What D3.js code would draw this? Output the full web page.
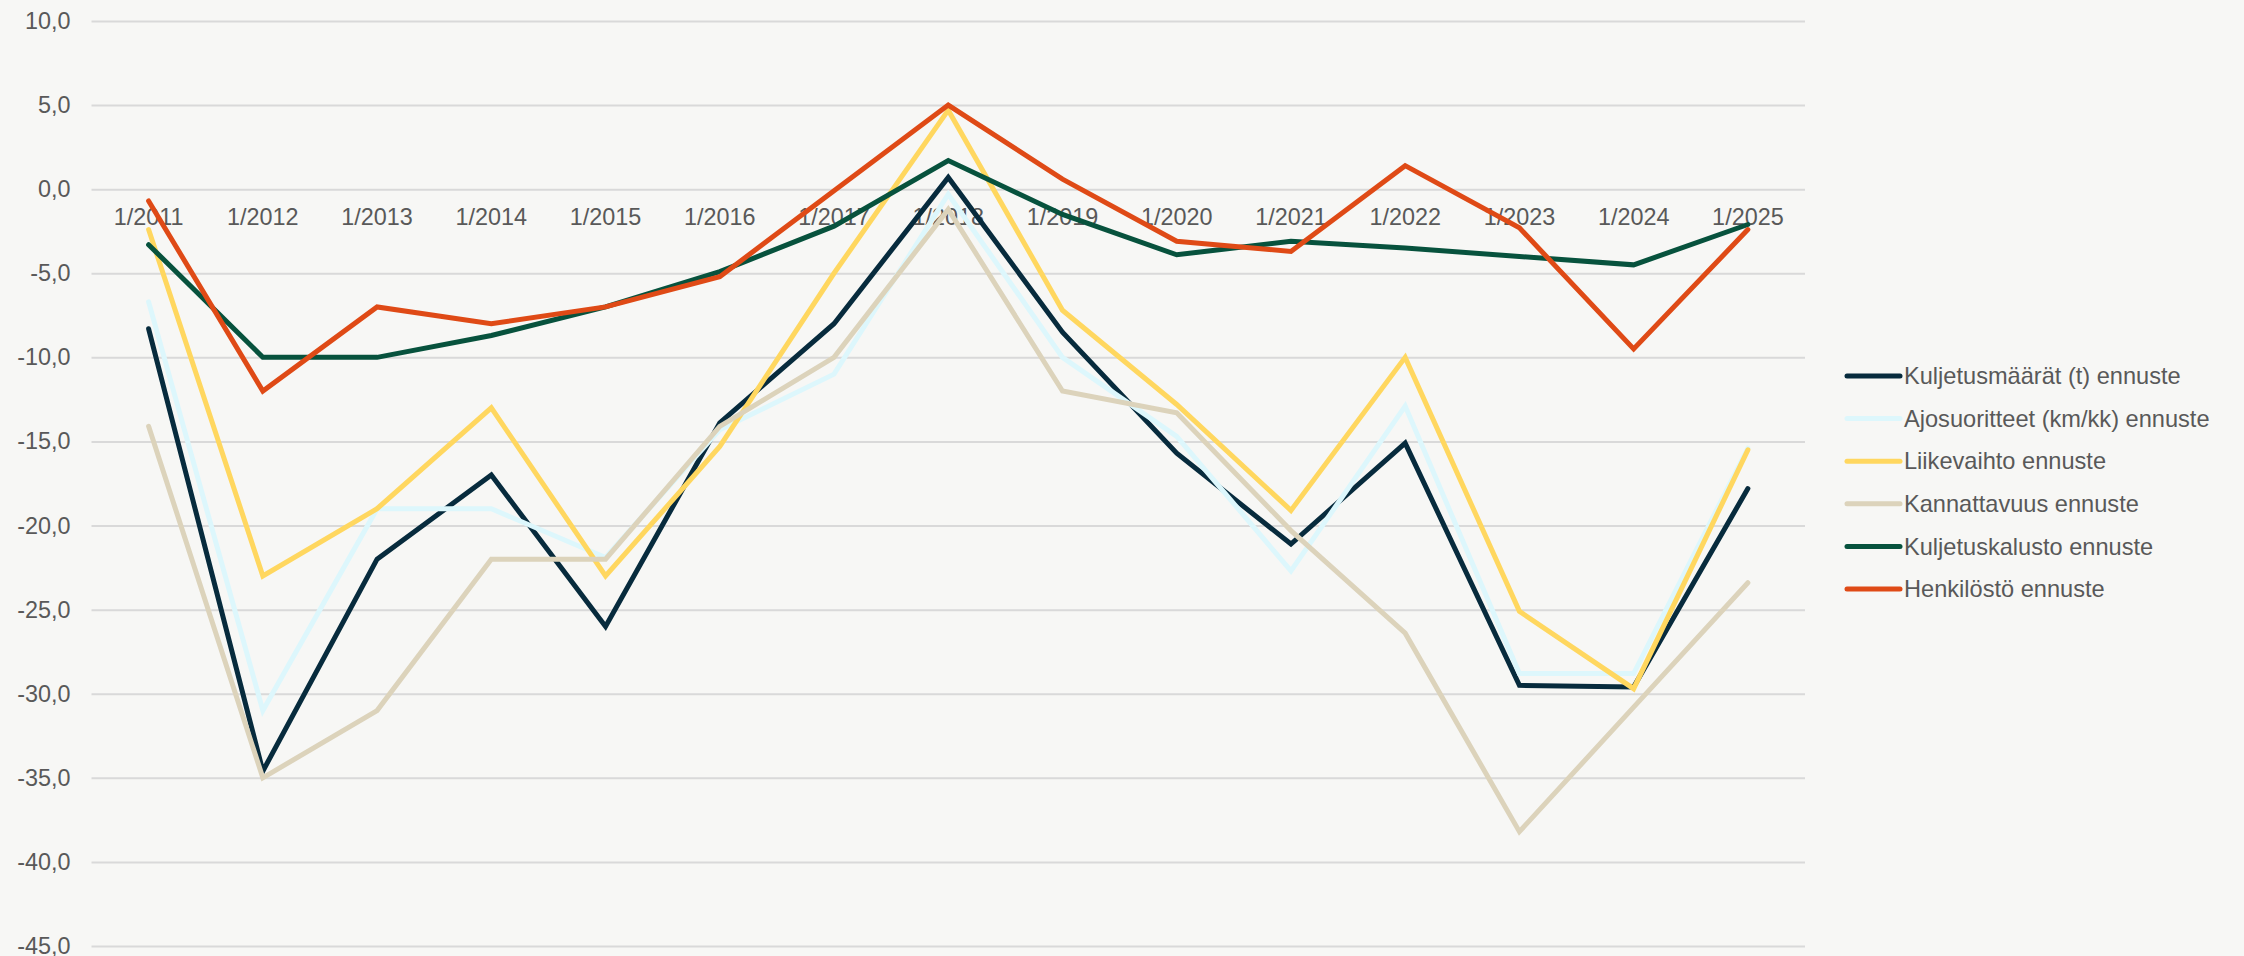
<!DOCTYPE html>
<html>
<head>
<meta charset="utf-8">
<script src="https://cdn.jsdelivr.net/npm/d3@7"></script>
<style>
  html, body { margin: 0; padding: 0; background: #f7f7f5; }
  svg { display: block; }
  text { font-family: "Liberation Sans", Arial, sans-serif; fill: #595959; }
</style>
</head>
<body>
<div id="chart"></div>
<script>
// categories and series
var categories = ["1/2011", "1/2012", "1/2013", "1/2014", "1/2015", "1/2016", "1/2017", "1/2018",
                  "1/2019", "1/2020", "1/2021", "1/2022", "1/2023", "1/2024", "1/2025"];
var kuljetusmaarat  = [-8.3, -34.6, -22.0, -17.0, -26.0, -13.9, -8.0, 0.7, -8.5, -15.7, -21.1, -15.1, -29.5, -29.6, -17.8];
var ajosuoritteet   = [-6.7, -31.0, -19.0, -19.0, -21.9, -14.3, -11.0, -0.3, -10.0, -14.7, -22.7, -12.9, -28.8, -28.8, -15.4];
var liikevaihto     = [-2.4, -23.0, -19.0, -13.0, -23.0, -15.3, -5.0, 4.7, -7.2, -12.8, -19.1, -10.0, -25.1, -29.7, -15.5];
var kannattavuus    = [-14.1, -35.0, -31.0, -22.0, -22.0, -14.1, -10.0, -1.2, -12.0, -13.3, -20.3, -26.4, -38.2, -30.8, -23.4];
var kuljetuskalusto = [-3.3, -10.0, -10.0, -8.7, -7.0, -4.9, -2.2, 1.7, -1.5, -3.9, -3.1, -3.5, -4.0, -4.5, -2.1];
var henkilosto      = [-0.7, -12.0, -7.0, -8.0, -7.0, -5.2, -0.1, 5.0, 0.6, -3.1, -3.7, 1.4, -2.3, -9.5, -2.4];
var seriesNames = ["Kuljetusmäärät (t) ennuste", "Ajosuoritteet (km/kk) ennuste", "Liikevaihto ennuste",
                   "Kannattavuus ennuste", "Kuljetuskalusto ennuste", "Henkilöstö ennuste"];
var yTicks = [10, 5, 0, -5, -10, -15, -20, -25, -30, -35, -40, -45];

var colors = ["#072b3d", "#ddf7fc", "#ffd75f", "#dcd3bb", "#07523d", "#df4a16"];
var series = [kuljetusmaarat, ajosuoritteet, liikevaihto, kannattavuus, kuljetuskalusto, henkilosto];

var width = 2244, height = 956;

var svg = d3.select("#chart").append("svg")
    .attr("width", width)
    .attr("height", height);

svg.append("rect").attr("width", width).attr("height", height).attr("fill", "#f7f7f5");

var x = d3.scaleBand()
    .domain(categories)
    .range([91.5, 1805]);
var y = d3.scaleLinear()
    .domain([-45, 10])
    .range([946, 21]);

var fmt = function(d) { return d3.format(".1f")(d).replace(".", ",").replace("−", "-"); };

// gridlines + y labels
var yAxis = svg.append("g")
    .attr("transform", "translate(" + x.range()[0] + ",0)")
    .call(d3.axisLeft(y).tickValues(yTicks).tickSize(-(x.range()[1] - x.range()[0])).tickPadding(21).tickFormat(fmt));
yAxis.select(".domain").remove();
yAxis.selectAll(".tick line").attr("stroke", "#d9d9d9").attr("stroke-width", 2);
yAxis.selectAll(".tick text")
    .style("font-size", "23.4px")
    .attr("fill", "#595959");

// category labels sit just under the zero line
var xAxis = svg.append("g")
    .attr("transform", "translate(0," + y(0) + ")")
    .call(d3.axisBottom(x).tickSize(0).tickPadding(19));
xAxis.select(".domain").remove();
xAxis.selectAll(".tick text")
    .style("font-size", "23.4px")
    .attr("fill", "#595959");

var line = d3.line()
    .x(function(d, i) { return x(categories[i]) + x.bandwidth() / 2; })
    .y(function(d) { return y(d); });

svg.append("g").selectAll("path")
    .data(series)
  .enter().append("path")
    .attr("d", line)
    .attr("fill", "none")
    .attr("stroke", function(d, i) { return colors[i]; })
    .attr("stroke-width", 5)
    .attr("stroke-linecap", "round")
    .attr("stroke-linejoin", "miter");

// legend
var legend = svg.append("g").attr("transform", "translate(1847,376)");
var item = legend.selectAll("g")
    .data(seriesNames)
  .enter().append("g")
    .attr("transform", function(d, i) { return "translate(0," + (i * 42.6) + ")"; });
item.append("line")
    .attr("x1", 0).attr("x2", 53)
    .attr("stroke", function(d, i) { return colors[i]; })
    .attr("stroke-width", 5)
    .attr("stroke-linecap", "round");
item.append("text")
    .attr("x", 57)
    .attr("dy", "0.35em")
    .style("font-size", "23.6px")
    .text(function(d) { return d; });
</script>
</body>
</html>
